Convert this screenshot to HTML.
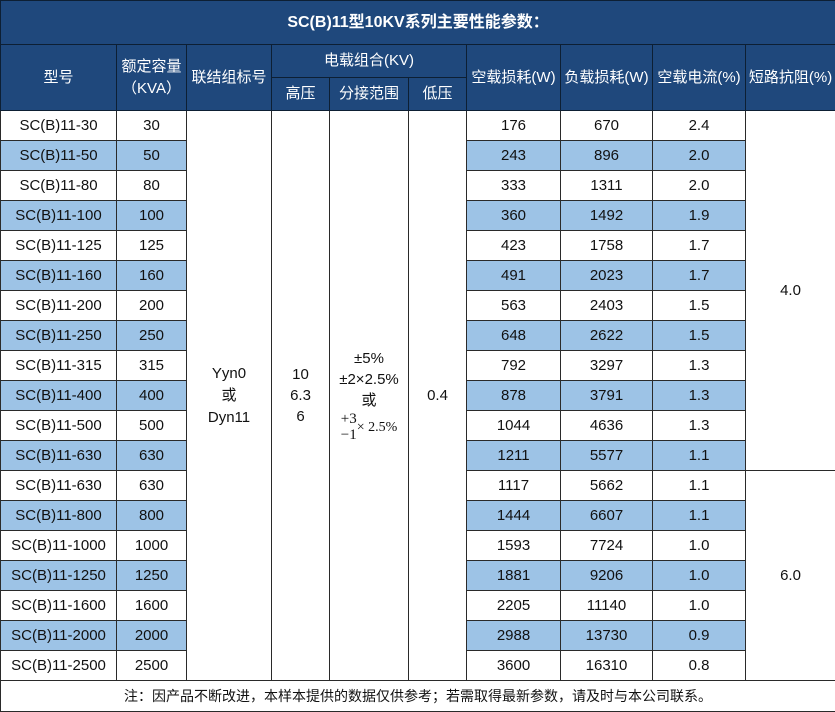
<!DOCTYPE html>
<html><head><meta charset="utf-8"><style>
html,body{margin:0;padding:0;background:#fff;}
table{border-collapse:collapse;table-layout:fixed;width:835px;font-family:"Liberation Sans","Noto Sans CJK SC",sans-serif;font-size:15px;color:#111;}
td{border:1px solid #2a2a2a;text-align:center;padding:0;height:29px;line-height:16px;}
.h td{background:#1f487c;color:#fff;border-color:#0d1f33;}
.h td.t{font-weight:bold;font-size:16px;height:43px;}
.b td.c{background:#9dc3e6;}
.f td{height:30px;font-size:14px;}
</style></head><body>
<table>
<colgroup><col style="width:116px"><col style="width:70px"><col style="width:85px"><col style="width:58px"><col style="width:79px"><col style="width:58px"><col style="width:94px"><col style="width:92px"><col style="width:93px"><col style="width:90px"></colgroup>
<tr class="h"><td class="t" colspan="10">SC(B)11型10KV系列主要性能参数：</td></tr>
<tr class="h"><td rowspan="2">型号</td><td rowspan="2" style="line-height:22px">额定容量<br>（KVA）</td><td rowspan="2">联结组标号</td><td colspan="3" style="height:32px">电载组合(KV)</td><td rowspan="2">空载损耗(W)</td><td rowspan="2">负载损耗(W)</td><td rowspan="2">空载电流(%)</td><td rowspan="2">短路抗阻(%)</td></tr>
<tr class="h"><td style="height:32px">高压</td><td>分接范围</td><td>低压</td></tr>
<tr><td>SC(B)11-30</td><td>30</td>
<td rowspan="19" style="line-height:22px">Yyn0<br>或<br>Dyn11</td>
<td rowspan="19" style="line-height:21px">10<br>6.3<br>6</td>
<td rowspan="19" style="line-height:21px">±5%<br>±2×2.5%<br>或<br><span style="font-family:'Liberation Serif',serif;font-size:15px;display:inline-block;line-height:16px;vertical-align:middle">+3<br>−1</span><span style="font-family:'Liberation Serif',serif;font-size:14px">× 2.5%</span></td>
<td rowspan="19">0.4</td>
<td>176</td><td>670</td><td>2.4</td><td rowspan="12">4.0</td></tr>
<tr class="b"><td class="c">SC(B)11-50</td><td class="c">50</td><td class="c">243</td><td class="c">896</td><td class="c">2.0</td></tr>
<tr><td>SC(B)11-80</td><td>80</td><td>333</td><td>1311</td><td>2.0</td></tr>
<tr class="b"><td class="c">SC(B)11-100</td><td class="c">100</td><td class="c">360</td><td class="c">1492</td><td class="c">1.9</td></tr>
<tr><td>SC(B)11-125</td><td>125</td><td>423</td><td>1758</td><td>1.7</td></tr>
<tr class="b"><td class="c">SC(B)11-160</td><td class="c">160</td><td class="c">491</td><td class="c">2023</td><td class="c">1.7</td></tr>
<tr><td>SC(B)11-200</td><td>200</td><td>563</td><td>2403</td><td>1.5</td></tr>
<tr class="b"><td class="c">SC(B)11-250</td><td class="c">250</td><td class="c">648</td><td class="c">2622</td><td class="c">1.5</td></tr>
<tr><td>SC(B)11-315</td><td>315</td><td>792</td><td>3297</td><td>1.3</td></tr>
<tr class="b"><td class="c">SC(B)11-400</td><td class="c">400</td><td class="c">878</td><td class="c">3791</td><td class="c">1.3</td></tr>
<tr><td>SC(B)11-500</td><td>500</td><td>1044</td><td>4636</td><td>1.3</td></tr>
<tr class="b"><td class="c">SC(B)11-630</td><td class="c">630</td><td class="c">1211</td><td class="c">5577</td><td class="c">1.1</td></tr>
<tr><td>SC(B)11-630</td><td>630</td><td>1117</td><td>5662</td><td>1.1</td><td rowspan="7">6.0</td></tr>
<tr class="b"><td class="c">SC(B)11-800</td><td class="c">800</td><td class="c">1444</td><td class="c">6607</td><td class="c">1.1</td></tr>
<tr><td>SC(B)11-1000</td><td>1000</td><td>1593</td><td>7724</td><td>1.0</td></tr>
<tr class="b"><td class="c">SC(B)11-1250</td><td class="c">1250</td><td class="c">1881</td><td class="c">9206</td><td class="c">1.0</td></tr>
<tr><td>SC(B)11-1600</td><td>1600</td><td>2205</td><td>11140</td><td>1.0</td></tr>
<tr class="b"><td class="c">SC(B)11-2000</td><td class="c">2000</td><td class="c">2988</td><td class="c">13730</td><td class="c">0.9</td></tr>
<tr><td>SC(B)11-2500</td><td>2500</td><td>3600</td><td>16310</td><td>0.8</td></tr>
<tr class="f"><td colspan="10">注：因产品不断改进，本样本提供的数据仅供参考；若需取得最新参数，请及时与本公司联系。</td></tr>
</table>
</body></html>
